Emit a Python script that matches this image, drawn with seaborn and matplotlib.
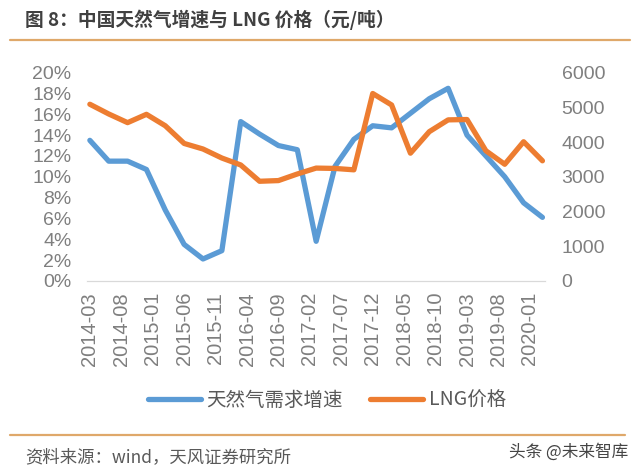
import numpy as np
import pandas as pd
import seaborn as sns
import matplotlib.pyplot as plt
from matplotlib.lines import Line2D

# quarterly data
quarters = ['2014-03', '2014-06', '2014-09', '2014-12', '2015-03', '2015-06', '2015-09',
            '2015-12', '2016-03', '2016-06', '2016-09', '2016-12', '2017-03', '2017-06',
            '2017-09', '2017-12', '2018-03', '2018-06', '2018-09', '2018-12', '2019-03',
            '2019-06', '2019-09', '2019-12', '2020-03']
gas_growth = [13.5, 11.5, 11.5, 10.7, 6.8, 3.5, 2.1, 2.9, 15.3, 14.1, 13.0, 12.6, 3.8,
              11.0, 13.6, 14.9, 14.7, 16.1, 17.5, 18.5, 14.0, 12.0, 10.0, 7.5, 6.1]
lng_price = [5090, 4810, 4560, 4800, 4470, 3960, 3800, 3540, 3340, 2870, 2890, 3080, 3250,
             3240, 3200, 5400, 5070, 3680, 4300, 4640, 4650, 3750, 3360, 4010, 3460]
tick_labels = ['2014-03', '2014-08', '2015-01', '2015-06', '2015-11', '2016-04', '2016-09',
               '2017-02', '2017-07', '2017-12', '2018-05', '2018-10', '2019-03', '2019-08',
               '2020-01']
left_ticks = list(range(0, 21, 2))
right_ticks = list(range(0, 6001, 1000))


def month_index(s):
    y, m = s.split('-')
    return (int(y) - 2014) * 12 + int(m) - 3


df = pd.DataFrame({'m': [month_index(q) for q in quarters],
                   'growth': gas_growth, 'price': lng_price})

sns.set_style('white')
plt.rcParams['font.family'] = ['Noto Sans CJK SC', 'DejaVu Sans']

BLUE = '#5B9BD5'
ORANGE = '#ED7D31'
GREY = '#7F7F7F'
RULE = '#DFA86A'
narrow = ['Liberation Sans Narrow', 'Liberation Sans', 'DejaVu Sans']

fig = plt.figure(figsize=(6.4, 4.72), dpi=100)
ax = fig.add_axes([0.1355, 0.405, 0.716, 0.441])
ax2 = ax.twinx()

sns.lineplot(data=df, x='m', y='growth', ax=ax, color=BLUE, lw=3.8)
sns.lineplot(data=df, x='m', y='price', ax=ax2, color=ORANGE, lw=3.8)

ax.set_xlim(-0.5, 72.4)
ax.set_ylim(0, 20)
ax2.set_ylim(0, 6000)

ax.set_xticks([month_index(t) for t in tick_labels])
ax.set_xticklabels(tick_labels, rotation=90, fontsize=14.5, color=GREY, family=narrow)
ax.set_yticks(left_ticks)
ax.set_yticklabels([f'{v}%' for v in left_ticks], fontsize=14, color=GREY, family=narrow)
ax2.set_yticks(right_ticks)
ax2.set_yticklabels([str(v) for v in right_ticks], fontsize=14, color=GREY, family=narrow)

ax.tick_params(axis='x', direction='out', length=4, width=1, color='#D9D9D9', pad=4)
ax.tick_params(axis='y', length=0, pad=11)
ax2.tick_params(axis='y', length=0, pad=12)
ax.set_xlabel('')
ax.set_ylabel('')
ax2.set_ylabel('')
for a in (ax, ax2):
    for side in ('top', 'left', 'right'):
        a.spines[side].set_visible(False)
    a.spines['bottom'].set_color('#D9D9D9')
    a.grid(False)

handles = [Line2D([], [], color=BLUE, lw=3.8), Line2D([], [], color=ORANGE, lw=3.8)]
fig.legend(handles, ['天然气需求增速', 'LNG价格'], loc='center', ncol=2, frameon=False,
           bbox_to_anchor=(327 / 640, 1 - 400 / 472), fontsize=14, handlelength=2.7,
           handletextpad=0.3, columnspacing=1.4, labelcolor='#595959')

fig.text(25 / 640, 1 - 20 / 472, '图 8：中国天然气增速与 LNG 价格（元/吨）', fontsize=13.5,
         fontweight='bold', color='#404040', va='center', ha='left')
fig.add_artist(Line2D([10 / 640, 630 / 640], [1 - 40 / 472] * 2, color=RULE, lw=1.6))
fig.add_artist(Line2D([10 / 640, 625 / 640], [1 - 435 / 472] * 2, color=RULE, lw=1.6))
fig.text(25 / 640, 1 - 457 / 472, '资料来源：wind，天风证券研究所', fontsize=12.5,
         color='#595959', va='center', ha='left')
fig.text(628 / 640, 1 - 452 / 472, '头条 @未来智库', fontsize=12,
         color='#444444', va='center', ha='right')

fig.savefig('out.png', dpi=100)
